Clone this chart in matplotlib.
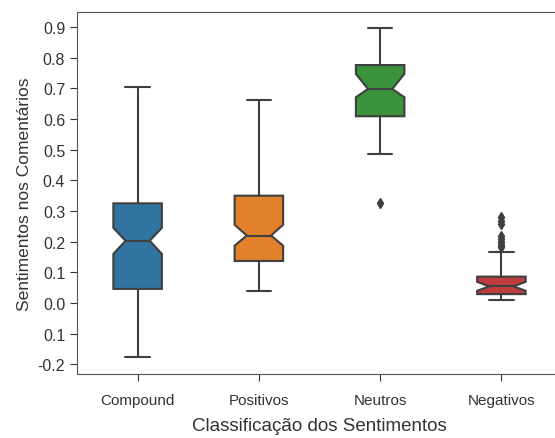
import matplotlib
matplotlib.use("Agg")
import matplotlib.pyplot as plt
import seaborn as sns

sns.set_style("ticks")
plt.rcParams['font.family'] = ['Liberation Sans', 'DejaVu Sans']

categories = ["Compound", "Positivos", "Neutros", "Negativos"]
colors = ["#3274a1", "#e1812c", "#3a923a", "#c03d3e"]

# box statistics
whislo = [-0.177, 0.038, 0.486, 0.011]
q1 = [0.046, 0.137, 0.609, 0.029]
med = [0.203, 0.220, 0.698, 0.054]
q3 = [0.325, 0.350, 0.776, 0.086]
whishi = [0.705, 0.661, 0.897, 0.165]
cilo = [0.160, 0.187, 0.671, 0.040]
cihi = [0.245, 0.255, 0.747, 0.069]
fliers = [[], [], [0.326], [0.183, 0.19, 0.20, 0.21, 0.22, 0.258, 0.268, 0.28]]

yticks = [-0.2, -0.1, 0.0, 0.1, 0.2, 0.3, 0.4, 0.5, 0.6, 0.7, 0.8, 0.9]
ytick_labels = ["-0.2", "0.1", "0.0", "0.1", "0.2", "0.3", "0.4", "0.5",
                "0.6", "0.7", "0.8", "0.9"]

stats = []
for i, name in enumerate(categories):
    stats.append({
        "label": name, "whislo": whislo[i], "q1": q1[i], "med": med[i],
        "q3": q3[i], "whishi": whishi[i], "cilo": cilo[i], "cihi": cihi[i],
        "fliers": fliers[i],
    })

fig = plt.figure(figsize=(5.55, 4.39), dpi=100)
ax = fig.add_axes([0.1387, 0.1458, 0.874, 0.8246])

edge = "#3f3f3f"
bp = ax.bxp(stats, positions=range(len(categories)), widths=0.4,
            shownotches=True, patch_artist=True,
            boxprops=dict(edgecolor=edge, linewidth=1.5),
            medianprops=dict(color=edge, linewidth=1.5),
            whiskerprops=dict(color=edge, linewidth=1.5),
            capprops=dict(color=edge, linewidth=1.5),
            flierprops=dict(marker="d", markerfacecolor=edge,
                            markeredgecolor=edge, markersize=5))
for patch, c in zip(bp["boxes"], colors):
    patch.set_facecolor(c)

ax.set_xlim(-0.5, 3.5)
ax.set_ylim(-0.2315, 0.949)
ax.set_yticks(yticks)
ax.set_yticklabels(ytick_labels, fontsize=11.5)
ax.set_xticks(range(len(categories)))
ax.set_xticklabels(categories, fontsize=11)
ax.tick_params(colors="#333333", length=5)
ax.tick_params(axis="x", pad=9)
for s in ax.spines.values():
    s.set_color("#555555")
ax.spines["right"].set_visible(False)

ax.set_xlabel("Classificação dos Sentimentos", fontsize=13.5, color="#333333", labelpad=7)
ax.set_ylabel("Sentimentos nos Comentários", fontsize=12.5, color="#333333")

fig.savefig("out.png", dpi=100)
